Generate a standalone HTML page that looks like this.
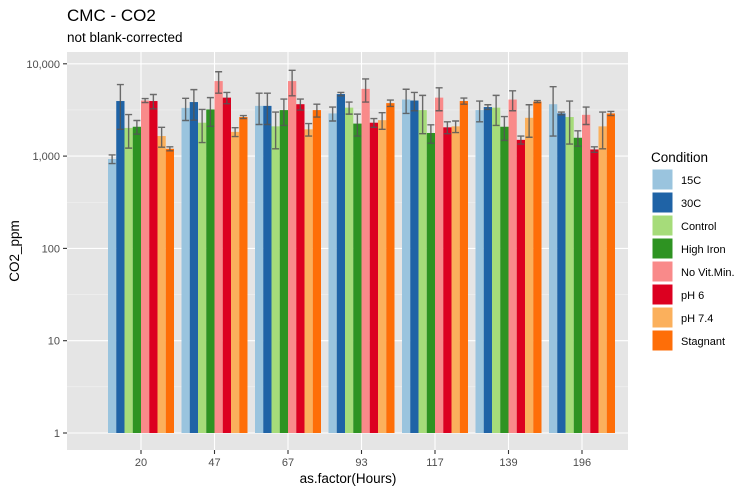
<!DOCTYPE html>
<html><head><meta charset="utf-8"><style>
body{margin:0;background:#fff;font-family:"Liberation Sans",Arial,sans-serif}
svg text{font-family:"Liberation Sans",Arial,sans-serif}
</style></head><body>
<svg id="chart" width="753" height="492" xmlns="http://www.w3.org/2000/svg">
<text x="67" y="21" font-size="17" fill="#000">CMC - CO2</text>
<text x="67" y="42" font-size="13.5" fill="#000">not blank-corrected</text>
<rect x="67" y="52" width="561" height="398" fill="#e5e5e5"/>
<g id="grid"></g><g id="bars"></g><g id="errs"></g><g id="axes"></g><g id="legend"></g>
<text x="348" y="483" font-size="13.5" text-anchor="middle" fill="#000">as.factor(Hours)</text>
<text transform="translate(19,251) rotate(-90)" font-size="13.5" text-anchor="middle" fill="#000">CO2_ppm</text>
</svg>
<script>
const hours = ["20","47","67","93","117","139","196"];
const conditions = ["15C","30C","Control","High Iron","No Vit.Min.","pH 6","pH 7.4","Stagnant"];
const colors = ["#9ac4de","#1f63a6","#a6dc7a","#2e9322","#f98a8a","#dc0020","#fbb05c","#fe6e08"];
const s15C = [930,3330,3500,2900,4100,3150,3650];
const s30C = [3950,3850,3500,4700,4000,3400,2900];
const sControl = [2020,2300,2100,3350,3150,3350,2650];
const sHighIron = [2080,3200,3150,2250,1780,2080,1580];
const sNoVit = [4000,6500,6500,5350,4300,4100,2800];
const sPH6 = [3950,4300,3650,2300,2050,1500,1180];
const sPH74 = [1650,1830,1950,2450,2100,2600,2100];
const sStagnant = [1200,2650,3150,3750,3950,3900,2900];
const e15C = [100,900,1300,500,1200,800,2000];
const e30C = [2000,1400,1300,200,900,200,100];
const eControl = [800,900,900,500,1400,1200,1300];
const eHighIron = [350,1100,1000,600,400,600,300];
const eNoVit = [200,1700,2000,1500,1200,1000,600];
const ePH6 = [700,600,500,250,300,150,80];
const ePH74 = [400,200,300,500,300,1000,900];
const eStagnant = [60,100,500,300,300,100,150];
const yTicks = [1,10,100,1000,10000];
const yTickLabels = ["1","10","100","1,000","10,000"];

const series=[s15C,s30C,sControl,sHighIron,sNoVit,sPH6,sPH74,sStagnant];
const errs=[e15C,e30C,eControl,eHighIron,eNoVit,ePH6,ePH74,eStagnant];
const NS="http://www.w3.org/2000/svg";
function mk(tag,attrs,parent){const e=document.createElementNS(NS,tag);for(const k in attrs)e.setAttribute(k,attrs[k]);document.getElementById(parent).appendChild(e);return e;}
const y=v=>433-92.3*Math.log10(v);
const xc=i=>141+73.5*i;
const bw=8.25;
// grid
for(let d=0;d<4;d++){const g=mk('line',{x1:67,x2:628,y1:y(Math.pow(10,d+0.5)),y2:y(Math.pow(10,d+0.5)),stroke:'#f2f2f2','stroke-width':0.6},'grid');

}
yTicks.forEach((t,i)=>{const g=mk('line',{x1:67,x2:628,y1:y(t),y2:y(t),stroke:'#fff','stroke-width':1.1},'grid');


const tk=mk('line',{x1:63,x2:67,y1:y(t),y2:y(t),stroke:'#333','stroke-width':1.1},'axes');


const tl=mk('text',{x:60,y:y(t)+4,'font-size':11,'text-anchor':'end',fill:'#4d4d4d'},'axes');tl.textContent=yTickLabels[i];

});
hours.forEach((h,i)=>{const g=mk('line',{x1:xc(i),x2:xc(i),y1:52,y2:450,stroke:'#fff','stroke-width':1.1},'grid');


const tk=mk('line',{x1:xc(i),x2:xc(i),y1:450,y2:454,stroke:'#333','stroke-width':1.1},'axes');


const tl=mk('text',{x:xc(i),y:466,'font-size':11,'text-anchor':'middle',fill:'#4d4d4d'},'axes');tl.textContent=h;

});
// bars
series.forEach((s,c)=>{s.forEach((v,i)=>{const x0=xc(i)-4*bw+c*bw;
const r=mk('rect',{x:x0,y:y(v),width:bw,height:y(1)-y(v),fill:colors[c]},'bars');


const e=errs[c][i],cx=x0+bw/2,lo=Math.max(v-e,1.01),hi=v+e;
const p=mk('path',{d:`M${cx-3.5},${y(hi)}H${cx+3.5}M${cx},${y(hi)}V${y(lo)}M${cx-3.5},${y(lo)}H${cx+3.5}`,stroke:'#555','stroke-width':1.4,fill:'none','stroke-opacity':0.85},'errs');

});});
// legend
const lt=mk('text',{x:651,y:162,'font-size':13.5,fill:'#000'},'legend');lt.textContent='Condition';


conditions.forEach((c,i)=>{const yy=169+i*23;
const k=mk('rect',{x:652,y:yy,width:21,height:21,fill:colors[i],stroke:'#fff','stroke-width':1},'legend');


const t=mk('text',{x:681,y:yy+15,'font-size':11,fill:'#000'},'legend');t.textContent=c;

});
</script>
</body></html>
